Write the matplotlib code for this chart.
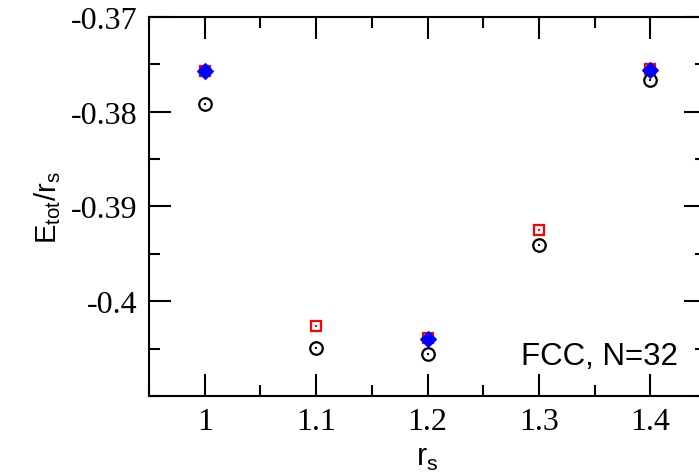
import numpy as np
import matplotlib
matplotlib.use("Agg")
import matplotlib.pyplot as plt
from matplotlib.ticker import FixedLocator, MultipleLocator

# =============================
# DATA
# =============================
rs_circ = [1.0, 1.1, 1.2, 1.3, 1.4]
e_circ = [-0.3792, -0.4049, -0.4056, -0.3941, -0.3767]

rs_sq = [1.0, 1.1, 1.2, 1.3, 1.4]
e_sq = [-0.3757, -0.4026, -0.4039, -0.3925, -0.3755]

rs_dia = [1.0, 1.2, 1.4]
e_dia = [-0.3757, -0.4040, -0.3756]

xticks = [1.0, 1.1, 1.2, 1.3, 1.4]
xtick_labels = ["1", "1.1", "1.2", "1.3", "1.4"]
yticks = [-0.37, -0.38, -0.39, -0.40]
ytick_labels = ["-0.37", "-0.38", "-0.39", "-0.4"]

# =============================
# FIGURE
# =============================
fig = plt.figure(figsize=(6.99, 4.77), dpi=100)
ax = fig.add_axes([0.2132, 0.1677, 0.7969, 0.7946])

ax.plot(rs_circ, e_circ, ls="none", marker="o", ms=9, mfc="none",
        mec="black", mew=1.6, zorder=3)
ax.plot(rs_circ, e_circ, ls="none", marker="s", ms=1.6, mfc="black",
        mec="black", mew=0, zorder=3)
ax.plot(rs_sq, e_sq, ls="none", marker="s", ms=7.5, mfc="none",
        mec="red", mew=1.6, zorder=4)
ax.plot(rs_sq, e_sq, ls="none", marker="s", ms=1.6, mfc="red",
        mec="red", mew=0, zorder=4)
ax.plot(rs_dia, e_dia, ls="none", marker="D", ms=8, mfc="blue",
        mec="blue", mew=0.8, zorder=5)

ax.set_xlim(0.95, 1.45)
ax.set_ylim(-0.41, -0.37)

ax.xaxis.set_major_locator(FixedLocator(xticks))
ax.set_xticklabels(xtick_labels)
ax.xaxis.set_minor_locator(MultipleLocator(0.05))
ax.yaxis.set_major_locator(FixedLocator(yticks))
ax.set_yticklabels(ytick_labels)
ax.yaxis.set_minor_locator(MultipleLocator(0.005))

ax.tick_params(which="both", direction="in", top=True, right=True, width=1.5)
ax.tick_params(which="major", length=16, pad=8)
ax.tick_params(which="minor", length=8)
for lab in ax.get_xticklabels() + ax.get_yticklabels():
    lab.set_fontfamily("Liberation Serif")
    lab.set_fontsize(23)

for sp in ax.spines.values():
    sp.set_linewidth(1.5)

ax.set_xlabel(r"$\mathregular{r_s}$", fontfamily="Liberation Sans",
              fontsize=22, labelpad=4)
ax.set_ylabel(r"$\mathregular{E_{tot}/r_s}$", fontfamily="Liberation Sans",
              fontsize=21, labelpad=6)

ax.text(0.95, 0.084, "FCC, N=32", transform=ax.transAxes, ha="right",
        va="baseline", fontfamily="Liberation Sans", fontsize=22.5)

fig.savefig("out.png", dpi=100)
